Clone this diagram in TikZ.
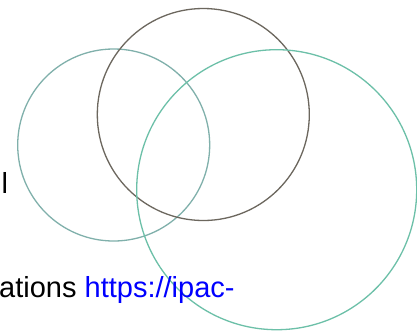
\documentclass[tikz,border=0pt]{standalone}
\usepackage{fontspec}
\setmainfont{Liberation Sans}
\definecolor{tealgray}{HTML}{80B0AB}
\definecolor{brownish}{HTML}{6C675E}
\definecolor{tealgreen}{HTML}{6CC0A8}
\definecolor{linkblue}{HTML}{0000FF}
\tikzset{
  ring/.style={line width=1.3pt},
  txt/.style={anchor=base west, inner sep=0pt, font=\fontsize{29}{33}\selectfont}
}
\begin{document}
\begin{tikzpicture}[x=1pt,y=-1pt]
\useasboundingbox[fill=white] (0,0) rectangle (417,333);
\draw[ring, tealgray] (113.7,145) circle[radius=96];
\draw[ring, brownish] (203.3,114.5) circle[radius=106];
\draw[ring, tealgreen] (276.7,189.7) circle[radius=140];
\node[txt] (l) at (1.5,193) {l};
\node[txt] (t) at (-1,297.5) {ations \textcolor{linkblue}{https://ipac-}};
\end{tikzpicture}
\end{document}
